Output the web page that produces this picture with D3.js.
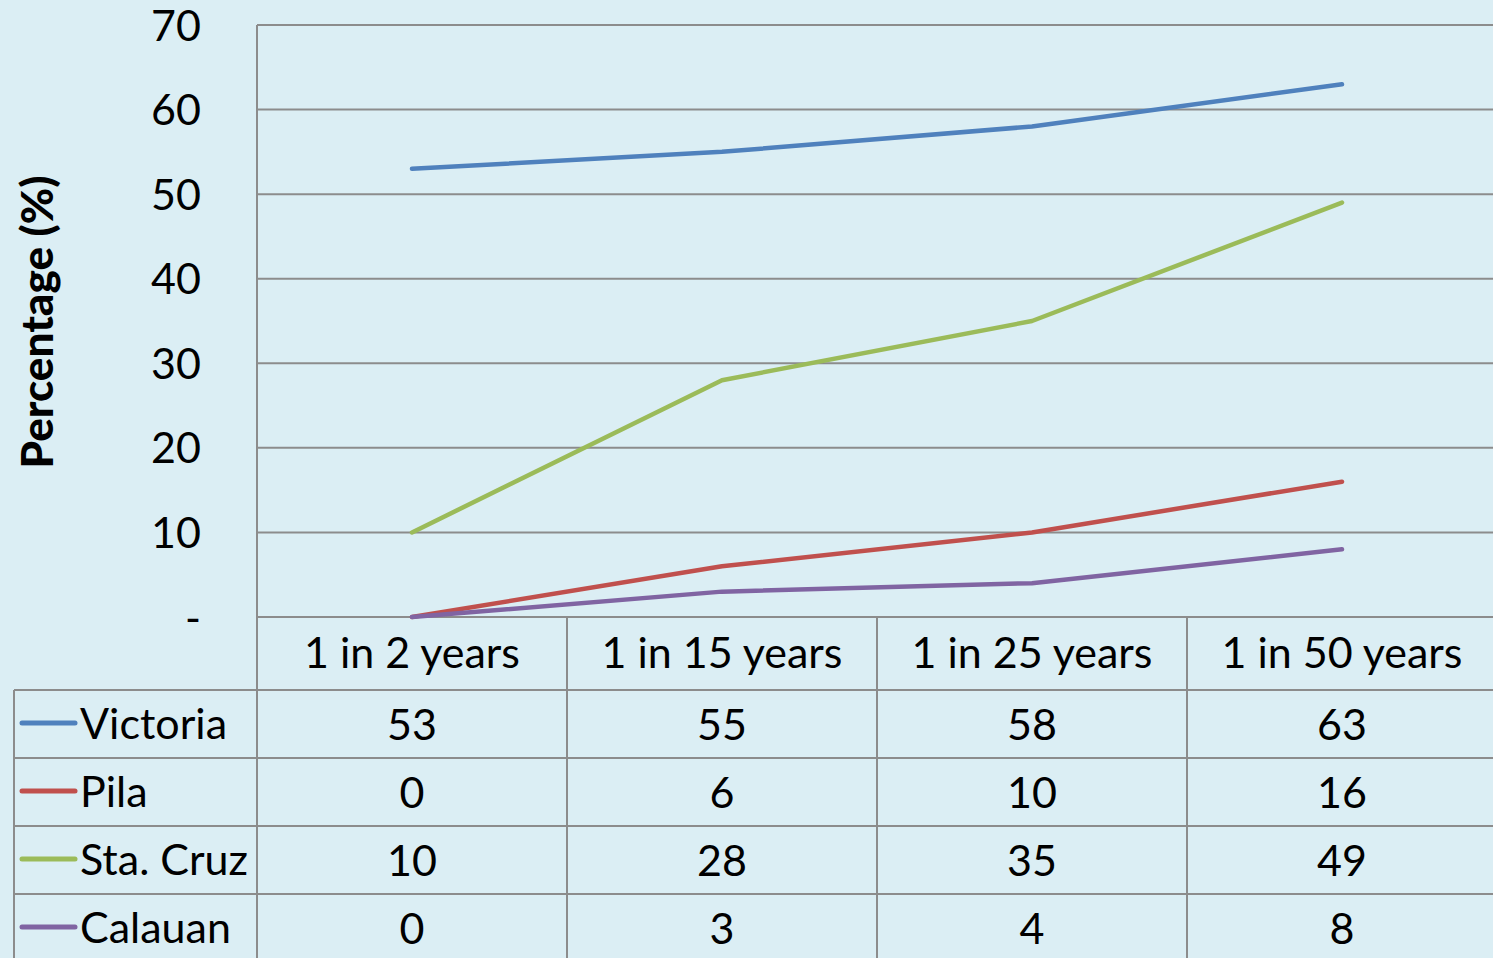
<!DOCTYPE html>
<html>
<head>
<meta charset="utf-8">
<script src="https://cdn.jsdelivr.net/npm/d3@7"></script>
<style>
  html, body { margin: 0; padding: 0; background: #DBEEF4; }
  svg { display: block; }
  text { font-family: Lato, "Open Sans", sans-serif; fill: #000; }
</style>
</head>
<body>
<svg id="chart" width="1493" height="958"></svg>
<script>
// Return periods (categories)
const categories = ["1 in 2 years", "1 in 15 years", "1 in 25 years", "1 in 50 years"];

// Percentage values per location
const victoria = [53, 55, 58, 63];
const pila = [0, 6, 10, 16];
const staCruz = [10, 28, 35, 49];
const calauan = [0, 3, 4, 8];

const seriesNames = ["Victoria", "Pila", "Sta. Cruz", "Calauan"];
const seriesColors = ["#4F81BD", "#C0504D", "#9BBB59", "#8064A2"];
const yTicks = [0, 10, 20, 30, 40, 50, 60, 70];

const series = [victoria, pila, staCruz, calauan].map((vals, i) => ({
  name: seriesNames[i], color: seriesColors[i], values: vals
}));

const svg = d3.select("#chart");
const W = 1493, H = 958;

const plotLeft = 257, bandW = 310;
const plotTop = 25, plotBottom = 617;
const headerBottom = 690, rowH = 68;
const tableLeft = 14;

const x = d3.scaleBand().domain(categories).range([plotLeft, plotLeft + bandW * categories.length]).padding(0);
const y = d3.scaleLinear().domain([0, 70]).range([plotBottom, plotTop]);

const gridColor = "#8C8C8C";
const fontSize = 43;

// Horizontal gridlines
svg.append("g").selectAll("line").data(yTicks).join("line")
  .attr("x1", plotLeft).attr("x2", W)
  .attr("y1", d => y(d)).attr("y2", d => y(d))
  .attr("stroke", gridColor).attr("stroke-width", 2);

// Y tick labels
svg.append("g").selectAll("text").data(yTicks).join("text")
  .attr("x", 201).attr("y", d => y(d) - 1)
  .attr("text-anchor", "end")
  .attr("dominant-baseline", "central")
  .attr("font-size", fontSize)
  .text(d => d === 0 ? "-" : d);

// Y axis title
svg.append("text")
  .attr("transform", `translate(36, ${(plotTop + plotBottom) / 2 + 1}) rotate(-90)`)
  .attr("text-anchor", "middle")
  .attr("dominant-baseline", "central")
  .attr("font-size", 44)
  .attr("font-weight", 900)
  .attr("textLength", 293)
  .attr("lengthAdjust", "spacingAndGlyphs")
  .text("Percentage (%)");

// Data table grid
const tg = svg.append("g").attr("stroke", gridColor).attr("stroke-width", 2);
// left axis line spanning plot and table
tg.append("line").attr("x1", plotLeft).attr("x2", plotLeft).attr("y1", plotTop).attr("y2", H);
// column separators
tg.selectAll("line.col").data(categories.slice(1)).join("line").attr("class", "col")
  .attr("x1", d => x(d)).attr("x2", d => x(d))
  .attr("y1", plotBottom).attr("y2", H);
// table left border
tg.append("line").attr("x1", tableLeft).attr("x2", tableLeft).attr("y1", headerBottom).attr("y2", H);
// row separators
tg.selectAll("line.row").data(d3.range(series.length)).join("line").attr("class", "row")
  .attr("x1", tableLeft).attr("x2", W)
  .attr("y1", i => headerBottom + i * rowH).attr("y2", i => headerBottom + i * rowH);

// Header labels
svg.append("g").selectAll("text").data(categories).join("text")
  .attr("x", d => x(d) + x.bandwidth() / 2)
  .attr("y", (plotBottom + headerBottom) / 2 - 2)
  .attr("text-anchor", "middle")
  .attr("dominant-baseline", "central")
  .attr("font-size", fontSize)
  .text(d => d);

// Table rows: legend key, name, values
const rows = svg.append("g").selectAll("g").data(series).join("g")
  .attr("transform", (d, i) => `translate(0, ${headerBottom + i * rowH + rowH / 2})`);
rows.append("line")
  .attr("x1", 22).attr("x2", 75).attr("y1", -1).attr("y2", -1)
  .attr("stroke", d => d.color).attr("stroke-width", 5).attr("stroke-linecap", "round");
rows.append("text")
  .attr("x", 80).attr("y", -2)
  .attr("dominant-baseline", "central")
  .attr("font-size", fontSize)
  .text(d => d.name);
rows.selectAll("text.val").data(d => d.values.map((v, j) => ({ v, c: categories[j] }))).join("text")
  .attr("class", "val")
  .attr("x", d => x(d.c) + x.bandwidth() / 2)
  .attr("y", -1)
  .attr("text-anchor", "middle")
  .attr("dominant-baseline", "central")
  .attr("font-size", fontSize)
  .text(d => d.v);

// Lines
const line = d3.line()
  .x((d, j) => x(categories[j]) + x.bandwidth() / 2)
  .y(d => y(d));
svg.append("g").selectAll("path").data(series).join("path")
  .attr("d", d => line(d.values))
  .attr("fill", "none")
  .attr("stroke", d => d.color)
  .attr("stroke-width", 4.5)
  .attr("stroke-linecap", "round")
  .attr("stroke-linejoin", "round");
</script>
</body>
</html>
